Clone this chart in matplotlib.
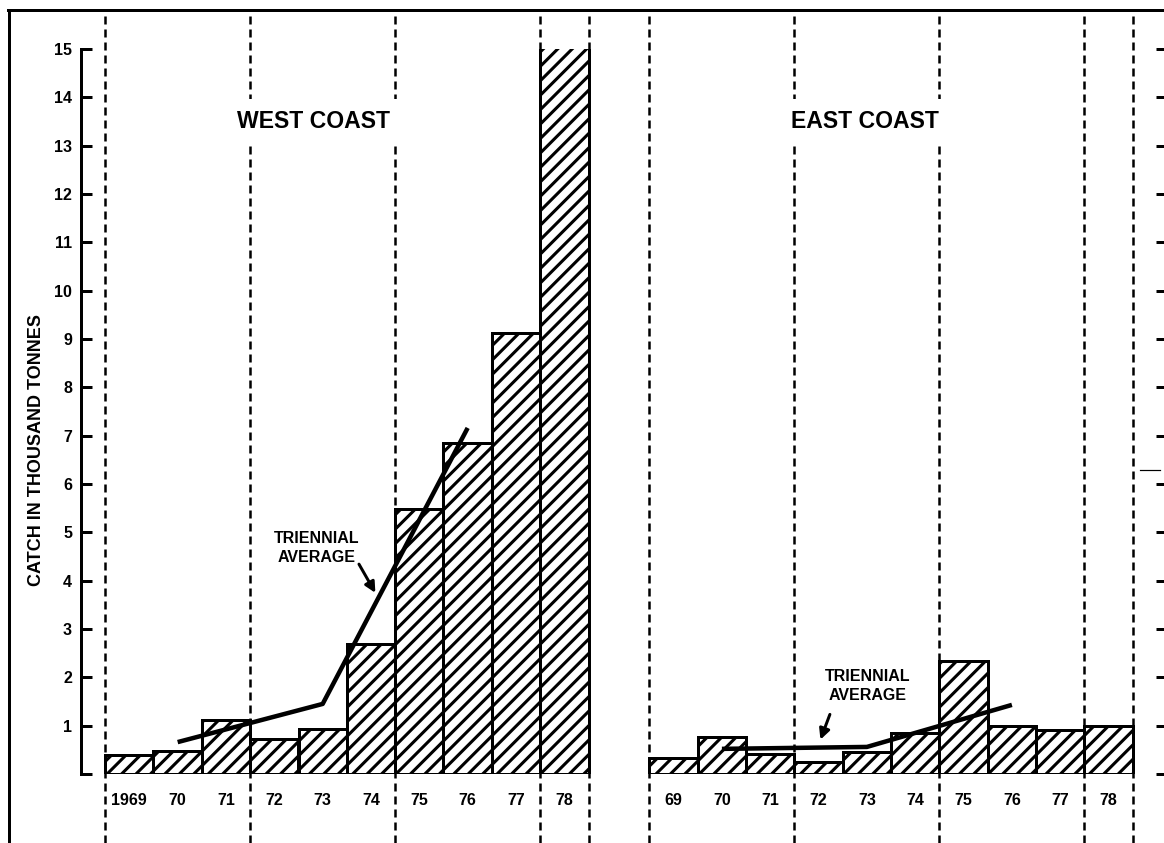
import matplotlib
matplotlib.use("Agg")
import matplotlib.pyplot as plt
from matplotlib.lines import Line2D

# catch in thousand tonnes
west_years = ["1969", "70", "71", "72", "73", "74", "75", "76", "77", "78"]
west_catch = [0.39, 0.47, 1.12, 0.72, 0.93, 2.69, 5.49, 6.85, 9.13, 15.05]
east_years = ["69", "70", "71", "72", "73", "74", "75", "76", "77", "78"]
east_catch = [0.33, 0.77, 0.41, 0.24, 0.45, 0.85, 2.34, 1.00, 0.91, 1.00]

# triennial averages, plotted at the middle year of each triple
tri_idx = [1, 4, 7]
west_tri = [0.66, 1.45, 7.16]
east_tri = [0.52, 0.56, 1.43]

y_ticks = list(range(0, 16))
y_tick_labels = [""] + [str(v) for v in range(1, 16)]

DPI = 130
W, H = 1164, 843
PT = 72.0 / DPI          # points per pixel

plt.rcParams["font.family"] = ["Liberation Sans", "DejaVu Sans"]
plt.rcParams["font.weight"] = "bold"
plt.rcParams["hatch.linewidth"] = 1.7
plt.rcParams["hatch.color"] = "black"

fig = plt.figure(figsize=(W / DPI, H / DPI), dpi=DPI)
# axes placed in pixels: left spine at x=81, baseline at y=774, 15 at y=49
ax = fig.add_axes([81 / W, (H - 774) / H, (1167 - 81) / W, (774 - 49) / H])

east_off = 11.26
west_pos = [i for i in range(len(west_catch))]
east_pos = [east_off + i for i in range(len(east_catch))]

ax.bar(west_pos, west_catch, width=1.0, color="white", edgecolor="black",
       hatch="///", linewidth=3 * PT, zorder=3)
ax.bar(east_pos, east_catch, width=1.0, color="white", edgecolor="black",
       hatch="///", linewidth=3 * PT, zorder=3)

ax.plot([west_pos[i] for i in tri_idx], west_tri, color="black",
        lw=4.5 * PT, solid_capstyle="butt", zorder=4)
ax.plot([east_pos[i] for i in tri_idx], east_tri, color="black",
        lw=4.5 * PT, solid_capstyle="butt", zorder=4)

# dashed separators every three years, full figure height
px_per_unit = 725 / 15.0
y_lo = -(H - 774) / px_per_unit
y_hi = (774 - 10) / px_per_unit
seps = [-0.5, 2.5, 5.5, 8.5, 9.5]
for s in seps:
    for off in (0, east_off):
        ax.vlines(s + off, y_lo, y_hi, colors="black", lw=2.5 * PT,
                  linestyles=(0, (3.2, 2.0)), clip_on=False, zorder=1)

ax.set_xlim(-1.0, -1.0 + (1167 - 81) / px_per_unit)
ax.set_ylim(0, 15)

for side in ("top", "bottom"):
    ax.spines[side].set_visible(False)
ax.spines["left"].set_linewidth(3 * PT)
ax.spines["right"].set_linewidth(3 * PT)

ax.set_yticks(y_ticks)
ax.set_yticklabels(y_tick_labels, fontsize=16 * PT, fontweight="bold")
ax.tick_params(axis="y", which="both", direction="in", length=11 * PT,
               width=3 * PT, pad=9 * PT, left=True, right=True,
               labelright=False)
ax.set_xticks(west_pos + east_pos)
ax.set_xticklabels(west_years + east_years, fontsize=16 * PT, fontweight="bold")
ax.tick_params(axis="x", length=0, pad=19 * PT)

def data_xy(px, py):
    return (px - 105) / px_per_unit - 0.5, (774 - py) / px_per_unit

box = dict(facecolor="white", edgecolor="none", pad=6)
ax.text(*data_xy(313, 121), "WEST COAST", fontsize=23 * PT, fontweight="bold",
        ha="center", va="center", bbox=box, zorder=5)
ax.text(*data_xy(865, 121), "EAST COAST", fontsize=23 * PT, fontweight="bold",
        ha="center", va="center", bbox=box, zorder=5)

arrow = dict(arrowstyle="-|>", color="black", lw=3 * PT, mutation_scale=12)
ax.text(*data_xy(316, 548), "TRIENNIAL\nAVERAGE", fontsize=16 * PT,
        fontweight="bold", ha="center", va="center", linespacing=1.3, zorder=5)
ax.annotate("", xy=data_xy(377, 596), xytext=data_xy(357, 561),
            arrowprops=arrow, zorder=5)
ax.text(*data_xy(867, 686), "TRIENNIAL\nAVERAGE", fontsize=16 * PT,
        fontweight="bold", ha="center", va="center", linespacing=1.3, zorder=5)
ax.annotate("", xy=data_xy(819, 743), xytext=data_xy(831, 711),
            arrowprops=arrow, zorder=5)

fig.text(37 / W, 1 - 450 / H, "CATCH IN THOUSAND TONNES", rotation=90,
         fontsize=18 * PT, fontweight="bold", ha="center", va="center")

# page frame of the scanned figure
fig.add_artist(Line2D([8 / W, 1.0], [1 - 10 / H] * 2, color="black", lw=3 * PT))
fig.add_artist(Line2D([9 / W] * 2, [0.0, 1 - 10 / H], color="black", lw=3 * PT))
fig.add_artist(Line2D([1140 / W, 1160 / W], [1 - 470 / H] * 2, color="black", lw=1.2 * PT))

fig.savefig("out.png", dpi=DPI, facecolor="white")
